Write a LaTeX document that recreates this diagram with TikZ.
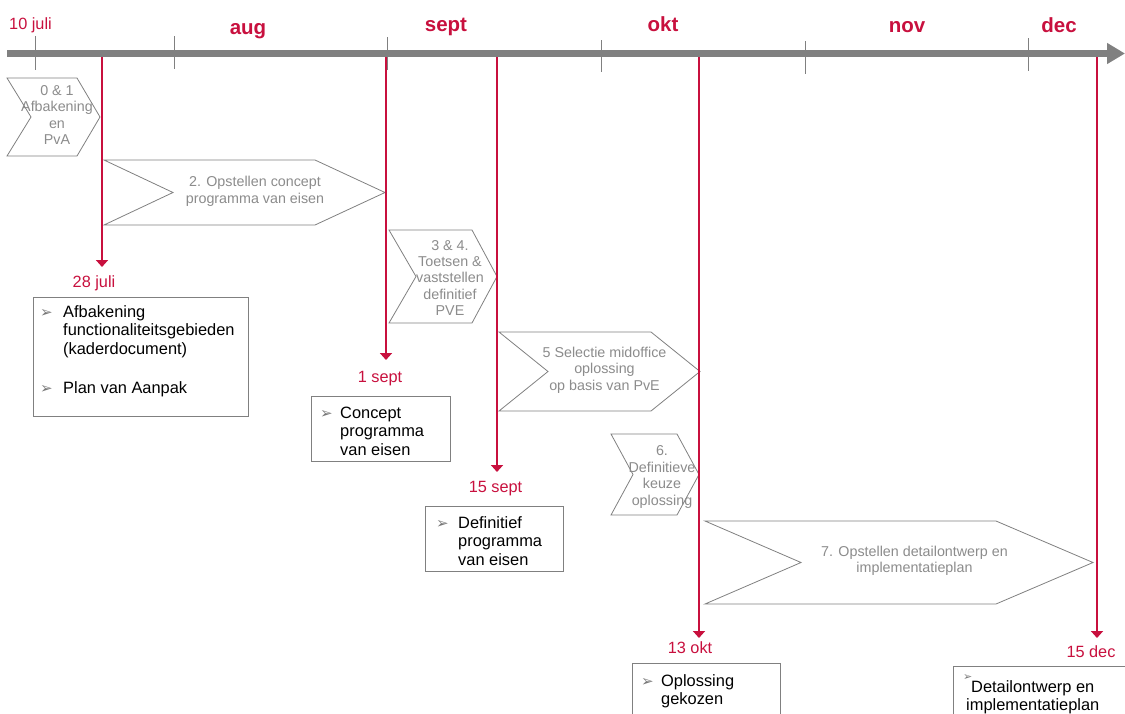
\documentclass[tikz,border=0pt]{standalone}
\usepackage{fontspec}
\setmainfont{Liberation Sans}
\newfontfamily\symfont{DejaVu Sans}
\usetikzlibrary{arrows.meta}

\definecolor{msred}{RGB}{200,16,62}
\definecolor{linegray}{RGB}{128,128,128}
\definecolor{phasegray}{RGB}{140,140,140}
\definecolor{bulgray}{RGB}{120,120,120}

% bullet for the deliverable lists
\newcommand{\bul}[1][20pt]{\makebox[#1][l]{\symfont\fontsize{15}{15}\selectfont\color{bulgray}➢}}

% chevron: left, top, body end, tip, bottom, notch
\newcommand{\phase}[6]{%
  \pgfmathsetmacro{\midY}{(#2+#5)/2}
  \draw[phaseline] (#1,#2) -- (#3,#2) -- (#4,\midY) -- (#3,#5) -- (#1,#5) -- (#6,\midY) -- cycle;
}

\begin{document}
\begin{tikzpicture}[x=1pt, y=-1pt,
  timebar/.style={draw=linegray, line width=7pt, -{Triangle[length=18pt,width=20pt]}},
  monthtick/.style={draw=linegray, line width=0.8pt},
  month/.style={text=msred, font=\fontsize{20.5}{24}\selectfont\bfseries, anchor=base, inner sep=0},
  datelbl/.style={text=msred, font=\fontsize{16.3}{19}\selectfont, anchor=base, inner sep=0},
  milestone/.style={draw=msred, line width=2.7pt, -{Triangle[length=7pt,width=12pt]}},
  phaseline/.style={draw=linegray, line width=0.8pt, fill=white},
  phasetxt/.style={text=phasegray, font=\fontsize{14.3}{16.5}\selectfont, align=center, inner sep=0},
  delbox/.style={draw=linegray, line width=0.9pt, fill=white, anchor=north west, inner sep=0},
  deltxt/.style={font=\fontsize{16.4}{18.5}\selectfont, anchor=north west, inner sep=0}]
\useasboundingbox (0,0) rectangle (1125,713);

% Draw month ticks
\foreach \tx/\ta/\tb in {35/36/70, 174/36/69, 387/37/70, 601/40/72, 805/41/74, 1028/38/71}
  \draw[monthtick] (\tx,\ta) -- (\tx,\tb);

% Month names
\node[datelbl] (start) at (30.5,29) {10 juli};
\foreach \mx/\my/\mt in {248/34.5/aug, 446/31/sept, 663/31/okt, 907/32/nov, 1059/32/dec}
  \node[month] (m-\mt) at (\mx,\my) {\mt};

% Phases
\phase{7}{78}{77}{100}{156}{31}
\node[phasetxt] (p1) at (57,115) {0 \& 1\\Afbakening\\en\\PvA};
\phase{104}{160}{315}{385}{225}{173}
\node[phasetxt] (p2) at (255,191.5) {2. Opstellen concept\\programma van eisen};
\phase{389}{230}{472}{497}{323}{416}
\node[phasetxt] (p3) at (450,278) {3 \& 4.\\Toetsen \&\\vaststellen\\definitief\\PVE};
\phase{499}{332}{651}{700}{411}{548}
\node[phasetxt] (p4) at (604.5,370) {5 Selectie midoffice\\oplossing\\op basis van PvE};
\phase{611}{434}{677}{699}{515}{633}
\node[phasetxt] (p5) at (662,477) {6.\\Definitieve\\keuze\\oplossing};
\phase{705}{521}{996}{1093}{604}{801}
\node[phasetxt] (p6) at (914.5,561) {7. Opstellen detailontwerp en\\implementatieplan};

% Milestones
\foreach \lx/\ly/\dx/\dy/\dt [count=\i] in {102/267/94/287/28 juli, 386/360/380/382/1 sept, 497/472/495.5/492/15 sept, 699/638/690/653/13 okt, 1097/638/1091/657/15 dec}{
  \node[datelbl] (d\i) at (\dx,\dy) {\dt};
  \coordinate (s\i) at (\lx,57);
  \coordinate (e\i) at (\lx,\ly);
  \draw[milestone] (s\i) -- (e\i);
}

% Draw timeline
\coordinate (tstart) at (7,53.5);
\coordinate (tend) at (1125,53.5);
\draw[timebar] (tstart) -- (tend);

% Deliverables
\node[delbox, minimum width=215pt, minimum height=119pt] (b1) at (33,297) {};
\node[deltxt] (l1) at (40,304) {\begin{tabular}{@{}l@{}l@{}}\bul[23pt] & Afbakening\\ & functionaliteitsgebieden\\ & (kaderdocument)\\[20.5pt] \bul[23pt] & Plan van Aanpak\end{tabular}};

\node[delbox, minimum width=139pt, minimum height=65pt] (b2) at (311,396) {};
\node[deltxt] (l2) at (320,405) {\begin{tabular}{@{}l@{}l@{}}\bul[20pt] & Concept\\ & programma\\ & van eisen\end{tabular}};

\node[delbox, minimum width=138pt, minimum height=65pt] (b3) at (425,506) {};
\node[deltxt] (l3) at (436,515) {\begin{tabular}{@{}l@{}l@{}}\bul[22pt] & Definitief\\ & programma\\ & van eisen\end{tabular}};

\node[delbox, minimum width=148pt, minimum height=75pt] (b4) at (632,663) {};
\node[deltxt] (l4) at (641,673) {\begin{tabular}{@{}l@{}l@{}}\bul[20pt] & Oplossing\\ & gekozen\end{tabular}};

\node[delbox, minimum width=200pt, minimum height=75pt] (b5) at (953,666) {};
\node[anchor=north west, inner sep=0] (k5) at (963,674) {\symfont\fontsize{11}{11}\selectfont\color{bulgray}➢};
\node[deltxt] (l5) at (966,679) {\begin{tabular}{@{}l@{}}\hspace{5pt}Detailontwerp en\\implementatieplan\end{tabular}};
\end{tikzpicture}
\end{document}
